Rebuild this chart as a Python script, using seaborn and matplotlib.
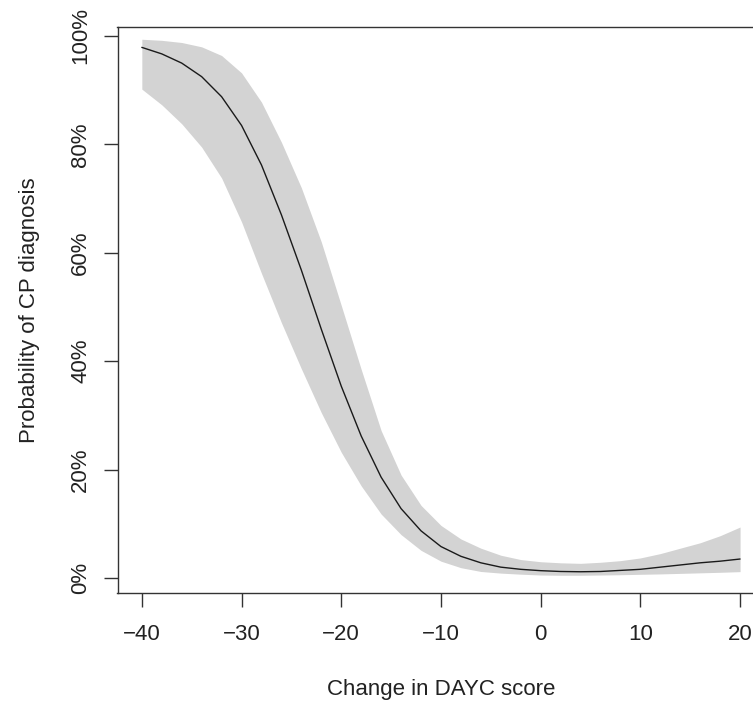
import numpy as np
import pandas as pd
import seaborn as sns
import matplotlib.pyplot as plt
from matplotlib.ticker import PercentFormatter

# Valeurs (probabilité estimée et intervalle de confiance)
dayc_change = [-40, -38, -36, -34, -32, -30, -28, -26, -24, -22, -20, -18, -16, -14, -12,
               -10, -8, -6, -4, -2, 0, 2, 4, 6, 8, 10, 12, 14, 16, 18, 20]
prob_fit = [0.979, 0.967, 0.950, 0.925, 0.888, 0.835, 0.762, 0.670, 0.568, 0.459, 0.354,
            0.262, 0.186, 0.128, 0.087, 0.058, 0.040, 0.028, 0.020, 0.016, 0.0135, 0.012,
            0.0115, 0.012, 0.014, 0.016, 0.020, 0.024, 0.028, 0.031, 0.035]
prob_upper = [0.994, 0.992, 0.988, 0.980, 0.964, 0.932, 0.878, 0.804, 0.720, 0.620, 0.503,
              0.385, 0.272, 0.190, 0.134, 0.097, 0.072, 0.055, 0.042, 0.034, 0.030, 0.028,
              0.027, 0.029, 0.032, 0.037, 0.045, 0.055, 0.065, 0.078, 0.094]
prob_lower = [0.902, 0.873, 0.838, 0.795, 0.738, 0.657, 0.562, 0.471, 0.386, 0.305, 0.232,
              0.170, 0.118, 0.080, 0.051, 0.031, 0.019, 0.012, 0.009, 0.007, 0.0055, 0.005,
              0.005, 0.0055, 0.006, 0.0068, 0.0075, 0.0085, 0.0095, 0.0105, 0.0117]
x_ticks = [-40, -30, -20, -10, 0, 10, 20]
y_ticks = [0, 0.2, 0.4, 0.6, 0.8, 1.0]

df = pd.DataFrame({'change': dayc_change, 'fit': prob_fit,
                   'lower': prob_lower, 'upper': prob_upper})

sns.set_style('ticks')
plt.rcParams['font.family'] = ['Liberation Sans', 'DejaVu Sans']
plt.rcParams['axes.unicode_minus'] = True

fig = plt.figure(figsize=(7.53, 7.03), dpi=100)
ax = fig.add_axes([117.5 / 753, 1 - 593 / 703, 646.5 / 753, 566 / 703])

ax.fill_between(df['change'], df['lower'], df['upper'], color='#d3d3d3', linewidth=0)
sns.lineplot(data=df, x='change', y='fit', color='#1a1a1a', linewidth=1.0, ax=ax)

ax.set_xlim(-42.44, 22.4)
ax.set_ylim(-0.0277, 1.0166)
ax.set_xticks(x_ticks)
ax.set_yticks(y_ticks)
ax.yaxis.set_major_formatter(PercentFormatter(xmax=1, decimals=0))
ax.tick_params(axis='both', direction='out', length=10, width=1.0, color='#333333',
               labelsize=16, labelcolor='#222222')
ax.tick_params(axis='x', pad=12)
ax.tick_params(axis='y', pad=9)
for lbl in ax.get_yticklabels():
    lbl.set_rotation(90)
    lbl.set_va('center')

for side in ['left', 'right', 'top', 'bottom']:
    ax.spines[side].set_visible(True)
    ax.spines[side].set_linewidth(1.0)
    ax.spines[side].set_color('#333333')

ax.set_xlabel('Change in DAYC score', fontsize=16, color='#222222', labelpad=25)
ax.set_ylabel('Probability of CP diagnosis', fontsize=16, color='#222222', labelpad=22)

fig.savefig('out.png', dpi=100)
